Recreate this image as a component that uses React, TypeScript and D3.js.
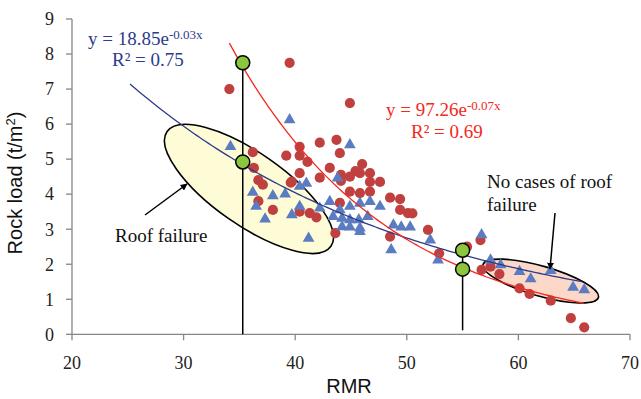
import React from "react";
import * as d3 from "d3";

// ---- Data (RMR, rock load t/m²) ----
const redCircles: [number, number][] = [
  [34.1, 7.0], [39.5, 7.75], [44.9, 6.6],
  [36.2, 5.2], [36.3, 4.75], [36.7, 4.4], [37.1, 4.27],
  [39.2, 5.1], [40.4, 5.35], [40.4, 5.1], [41.1, 4.92], [40.4, 4.6], [39.6, 4.33],
  [42.2, 5.47], [43.7, 5.55], [44.0, 5.17], [43.1, 4.75], [46.0, 4.86],
  [44.1, 4.55], [44.9, 4.5], [45.4, 4.66], [45.8, 4.6], [46.7, 4.6], [46.7, 4.35], [47.6, 4.35], [44.1, 4.38],
  [44.9, 4.07], [45.8, 4.03], [46.7, 4.07], [44.0, 3.75], [42.2, 4.47],
  [48.5, 3.9], [49.4, 3.86], [49.4, 3.55], [50.1, 3.46], [50.5, 3.45], [51.9, 2.98], [48.5, 2.79],
  [41.3, 3.46], [41.9, 3.34], [43.6, 2.89],
  [36.7, 3.8], [38.0, 3.55], [39.7, 4.36], [40.4, 3.5],
  [52.9, 2.31], [55.4, 2.5], [56.6, 2.69], [56.7, 1.84], [57.5, 1.93], [58.3, 1.72],
  [60.1, 1.31], [61.0, 1.15], [62.9, 0.96], [64.7, 0.46], [65.9, 0.2],
];

const blueTriangles: [number, number][] = [
  [34.2, 5.36], [39.5, 6.12], [44.9, 5.41],
  [36.2, 4.05], [38.0, 3.95], [39.1, 4.0], [40.4, 4.22], [43.8, 4.46],
  [36.5, 3.65], [37.3, 3.29], [39.7, 3.41], [41.2, 2.74], [41.0, 4.31], [40.4, 3.65], [42.2, 3.6],
  [47.6, 3.65], [46.7, 3.79], [45.8, 3.74], [44.9, 3.65], [44.0, 3.55], [43.1, 3.79],
  [43.4, 3.36], [44.2, 3.31], [44.9, 3.27], [45.7, 3.27], [46.5, 3.36],
  [44.2, 3.07], [44.9, 3.06], [45.8, 3.03], [45.8, 2.93],
  [48.6, 2.41], [48.8, 3.12], [49.5, 3.06], [50.3, 3.06], [52.1, 2.69], [52.8, 2.12],
  [56.7, 2.84], [57.5, 2.12], [58.4, 1.98], [60.1, 1.79], [61.1, 1.58], [62.9, 1.82], [64.9, 1.34], [65.9, 1.27],
];

const greenMarkers: [number, number][] = [
  [35.3, 7.75], [35.3, 4.92], [55.0, 2.4], [55.0, 1.86],
];
const verticalLines: [number, number][] = [
  [35.3, 7.75], [55.0, 2.4],
];

// Trend line parameters (y = a·e^(−b·x)) and plotted ranges
const blueFit = { a: 18.85, b: 0.0385, from: 25.2, to: 65.8 };
const redFit = { a: 92, b: 0.0705, from: 34.1, to: 66.0 };

const xTicks = [20, 30, 40, 50, 60, 70];
const yTicks = [0, 1, 2, 3, 4, 5, 6, 7, 8, 9];

export default function App() {
  const W = 641, H = 399;
  const x = d3.scaleLinear().domain([20, 70]).range([72, 630]);
  const y = d3.scaleLinear().domain([0, 9]).range([334.3, 19]);
  const axisColor = "#8a8580";
  const serif = "'Liberation Serif', 'Times New Roman', serif";
  const sans = "'Liberation Sans', Arial, sans-serif";

  const curve = (f: { a: number; b: number; from: number; to: number }) => {
    const xs = d3.range(f.from, f.to + 0.001, 0.25);
    return d3
      .line<number>()
      .x((v) => x(v))
      .y((v) => y(f.a * Math.exp(-f.b * v)))(xs) as string;
  };

  const tri = d3.symbol().type(d3.symbolTriangle).size(60)() as string;

  const yellowC = [x(35.86), y(4.15)];
  const pinkC = [x(62.0), y(1.52)];

  return (
    <svg
      width={W}
      height={H}
      style={{ position: "absolute", left: 0, top: 0, background: "#fff" }}
    >
      <defs>
        <marker id="ah" viewBox="0 0 10 10" refX="9" refY="5" markerWidth="7" markerHeight="7" orient="auto-start-reverse" markerUnits="userSpaceOnUse">
          <path d="M0,0 L10,5 L0,10 z" fill="#000" />
        </marker>
      </defs>
      <rect width={W} height={H} fill="#fff" />

      {/* ellipses */}
      <ellipse
        cx={0} cy={0} rx={100} ry={36}
        transform={`translate(${yellowC[0]},${yellowC[1]}) rotate(35)`}
        fill="#fdfcd6" stroke="#000" strokeWidth={1.6}
      />
      <ellipse
        cx={0} cy={0} rx={60} ry={15}
        transform={`translate(${pinkC[0]},${pinkC[1]}) rotate(16)`}
        fill="#fcd8c8" stroke="#000" strokeWidth={1.6}
      />

      {/* axes */}
      <line x1={72} y1={y(9)} x2={72} y2={y(0)} stroke={axisColor} strokeWidth={1.3} />
      <line x1={72} y1={y(0)} x2={630} y2={y(0)} stroke={axisColor} strokeWidth={1.3} />
      {yTicks.map((t) => (
        <g key={"y" + t}>
          <line x1={66} x2={72} y1={y(t)} y2={y(t)} stroke={axisColor} strokeWidth={1.3} />
          <text x={54} y={y(t)} dy="0.35em" textAnchor="end" fontFamily={serif} fontSize={18} fill="#222">
            {t}
          </text>
        </g>
      ))}
      {xTicks.map((t) => (
        <g key={"x" + t}>
          <line x1={x(t)} x2={x(t)} y1={y(0)} y2={y(0) + 6} stroke={axisColor} strokeWidth={1.3} />
          <text x={x(t)} y={369} textAnchor="middle" fontFamily={serif} fontSize={18} fill="#222">
            {t}
          </text>
        </g>
      ))}
      <text x={349} y={393} textAnchor="middle" fontFamily={sans} fontSize={20} fill="#111">
        RMR
      </text>
      <text
        transform={`translate(22,183) rotate(-90)`}
        textAnchor="middle"
        fontFamily={sans}
        fontSize={20}
        fill="#111"
      >
        Rock load (t/m<tspan dy={-7} fontSize={13}>2</tspan><tspan dy={7}>)</tspan>
      </text>

      {/* data points */}
      {redCircles.map(([a, b], i) => (
        <circle key={"r" + i} cx={x(a)} cy={y(b)} r={5.1} fill="#c0403f" />
      ))}
      {blueTriangles.map(([a, b], i) => (
        <path key={"b" + i} d={tri} transform={`translate(${x(a)},${y(b)})`} fill="#5b7cc0" />
      ))}

      {/* trend lines */}
      <path d={curve(blueFit)} fill="none" stroke="#2d3b8a" strokeWidth={1.3} />
      <path d={curve(redFit)} fill="none" stroke="#f4281c" strokeWidth={1.3} />

      {/* vertical markers */}
      {verticalLines.map(([a, b], i) => (
        <line key={"v" + i} x1={x(a)} x2={x(a)} y1={y(b)} y2={y(0) - (i === 1 ? 4 : 0)} stroke="#000" strokeWidth={1.5} />
      ))}
      {greenMarkers.map(([a, b], i) => (
        <circle key={"g" + i} cx={x(a)} cy={y(b)} r={7} fill="#8cc63f" stroke="#000" strokeWidth={1.5} />
      ))}

      {/* annotations */}
      <line x1={145} y1={215} x2={187} y2={184} stroke="#000" strokeWidth={1.5} markerEnd="url(#ah)" />
      <text x={115} y={242} fontFamily={serif} fontSize={19} fill="#111">Roof failure</text>

      <line x1={555} y1={213} x2={550} y2={269} stroke="#000" strokeWidth={1.5} markerEnd="url(#ah)" />
      <text x={487} y={188} fontFamily={serif} fontSize={19} fill="#111">No cases of roof</text>
      <text x={487} y={211} fontFamily={serif} fontSize={19} fill="#111">failure</text>

      {/* equations */}
      <text x={88} y={45} fontFamily={serif} fontSize={19} fill="#2d3b8a">
        y = 18.85e<tspan dy={-6} fontSize={13}>-0.03x</tspan>
      </text>
      <text x={112} y={66} fontFamily={serif} fontSize={19} fill="#2d3b8a">
        R² = 0.75
      </text>
      <text x={386} y={116} fontFamily={serif} fontSize={19} fill="#f4281c">
        y = 97.26e<tspan dy={-6} fontSize={13}>-0.07x</tspan>
      </text>
      <text x={411} y={138} fontFamily={serif} fontSize={19} fill="#f4281c">
        R² = 0.69
      </text>
    </svg>
  );
}
